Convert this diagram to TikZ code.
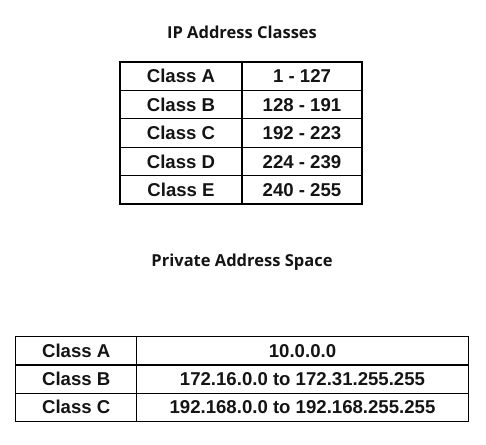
\documentclass[tikz,border=0pt]{standalone}
\usepackage{fontspec}
\setmainfont{Liberation Sans}
\newfontfamily\titlefont{Open Sans}
\definecolor{txt}{HTML}{141414}
\begin{document}
\begin{tikzpicture}[x=1pt,y=-1pt,
  cell/.style={draw=black,line width=1.2pt,inner sep=0pt,minimum height=28.4pt,
    font=\fontsize{18.6}{21}\selectfont\bfseries,text=txt,
    text height=13.3pt,text depth=0pt,anchor=north west,outer sep=0pt},
  ttl/.style={font=\titlefont\fontsize{16.5}{19}\selectfont\bfseries,text=txt,inner sep=0pt}]
\useasboundingbox (0,0) rectangle (486,444);
\node[ttl] (t1) at (242,32.5) {IP Address Classes};
\foreach \n/\a/\b [count=\i from 0] in {a/Class A/1 - 127,b/Class B/128 - 191,c/Class C/192 - 223,d/Class D/224 - 239,e/Class E/240 - 255}{
  \node[cell,minimum width=122pt] (k\n) at (120,62+28.4*\i) {\a};
  \node[cell,minimum width=120pt] (r\n) at (242,62+28.4*\i) {\b};
}
\node[ttl] (t2) at (242,262.5) {Private Address Space};
\foreach \n/\a/\b [count=\i from 0] in {a/Class A/10.0.0.0,b/Class B/172.16.0.0 to 172.31.255.255,c/Class C/192.168.0.0 to 192.168.255.255}{
  \node[cell,minimum width=121pt,minimum height=28.2pt] (pk\n) at (15.7,336.7+28.2*\i) {\a};
  \node[cell,minimum width=331.6pt,minimum height=28.2pt] (pr\n) at (136.7,336.7+28.2*\i) {\b};
}
\end{tikzpicture}
\end{document}
